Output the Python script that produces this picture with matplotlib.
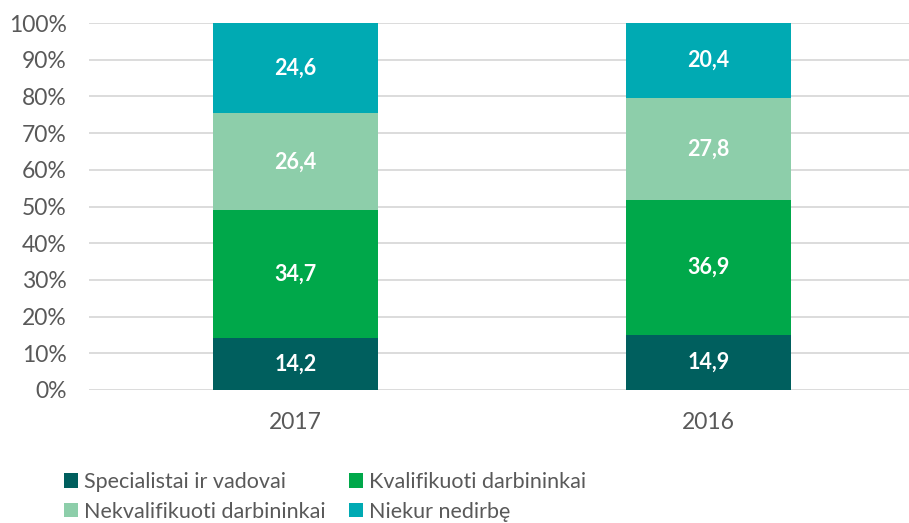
import matplotlib
matplotlib.use("Agg")
import matplotlib.pyplot as plt
from matplotlib.patches import Patch
import numpy as np

years = ["2017", "2016"]
series_names = ["Specialistai ir vadovai", "Kvalifikuoti darbininkai",
                "Nekvalifikuoti darbininkai", "Niekur nedirbę"]
specialistai = [14.2, 14.9]
kvalifikuoti = [34.7, 36.9]
nekvalifikuoti = [26.4, 27.8]
niekur = [24.6, 20.4]
colors = ["#005F5E", "#00A84A", "#8DCEAA", "#00AAB3"]

plt.rcParams['font.family'] = ['Lato', 'DejaVu Sans']

fig = plt.figure(figsize=(9.09, 5.23), dpi=100)
ax = fig.add_axes([89/909, 1-390/523, 1-89/909, (390-23)/523])

data = np.array([specialistai, kvalifikuoti, nekvalifikuoti, niekur])
totals = data.sum(axis=0)
pct = data / totals * 100
x = np.arange(len(years))
bottom = np.zeros(len(years))
for i in range(len(series_names)):
    ax.bar(x, pct[i], bottom=bottom, width=0.4, color=colors[i], zorder=3)
    for j in range(len(years)):
        ax.text(x[j], bottom[j] + pct[i][j] / 2, f"{data[i][j]:.1f}".replace(".", ","),
                ha="center", va="center", color="white", fontsize=15.5,
                fontweight="bold", zorder=4)
    bottom += pct[i]

ax.set_xlim(-0.5, 1.4855)
ax.set_ylim(0, 100)
ax.set_yticks(np.arange(0, 101, 10))
ax.set_yticklabels([f"{v}%" for v in range(0, 101, 10)])
ax.set_xticks(x)
ax.set_xticklabels(years)
ax.yaxis.grid(True, color="#D9D9D9", linewidth=1.3, zorder=0)
ax.set_axisbelow(True)
for s in ax.spines.values():
    s.set_visible(False)
ax.tick_params(axis="both", length=0, labelsize=16.5, colors="#595959")
ax.tick_params(axis="y", pad=16)
ax.tick_params(axis="x", pad=16)

order = [0, 2, 1, 3]
handles = [Patch(facecolor=colors[k], edgecolor="none") for k in order]
labels = [series_names[k] for k in order]
fig.legend(handles, labels, ncol=2, loc="upper left",
           bbox_to_anchor=(64/909, 1-472/523), frameon=False,
           fontsize=15.5, labelcolor="#595959", handlelength=0.65,
           handleheight=0.65, handletextpad=0.3, columnspacing=1.05,
           labelspacing=0.45, borderaxespad=0, borderpad=0)

fig.savefig("out.png", dpi=100)
